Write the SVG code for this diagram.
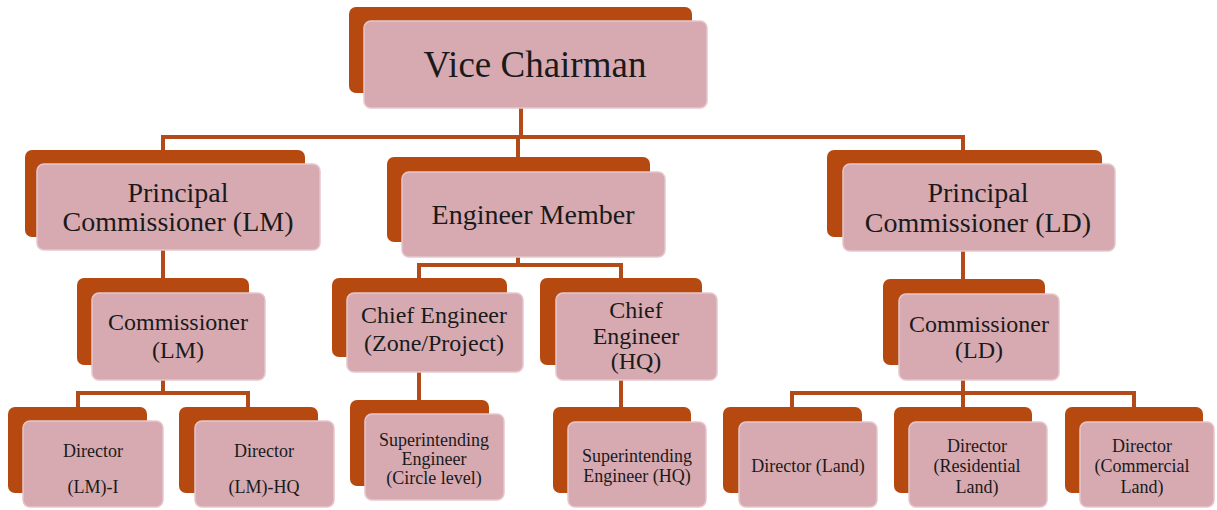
<svg xmlns="http://www.w3.org/2000/svg" width="1217" height="510" viewBox="0 0 1217 510">
<style>
.bk{fill:#B5490F}
.fr{fill:#D7AAB2;stroke:#E6C6CC;stroke-width:1.5}
.t{font-family:"Liberation Serif","Times New Roman",serif;fill:#1a1a1a;text-anchor:middle}
.c{stroke:#B24A1A;stroke-width:4;fill:none;stroke-linecap:square}
</style>
<rect width="1217" height="510" fill="#ffffff"/>
<g id="connectors">
<path class="c" d="M521 108V137M163 137H963M163 137V150M518 137V157M963 137V150"/>
<path class="c" d="M163 250V278"/>
<path class="c" d="M518 257V265M419 265H621M419 265V278M621 265V278"/>
<path class="c" d="M963 251V279"/>
<path class="c" d="M163 380V393M78 393H248M78 393V407M248 393V407"/>
<path class="c" d="M419 372V400"/>
<path class="c" d="M621 380V407"/>
<path class="c" d="M963 380V393M792 393H1134M792 393V407M963 393V407M1134 393V407"/>
</g>
<g id="vice-chairman">
<rect class="bk" x="349" y="7" width="343" height="86" rx="7"/>
<rect class="fr" x="364" y="21" width="343" height="87" rx="7"/>
<text class="t" x="535" y="77" font-size="37">Vice Chairman</text>
</g>
<g id="pc-lm">
<rect class="bk" x="25" y="150" width="280" height="87" rx="7"/>
<rect class="fr" x="37" y="164" width="283" height="86" rx="7"/>
<text class="t" x="178" y="202" font-size="28">Principal</text>
<text class="t" x="178" y="231" font-size="28">Commissioner (LM)</text>
</g>
<g id="engineer-member">
<rect class="bk" x="387" y="157" width="263" height="85" rx="7"/>
<rect class="fr" x="402" y="172" width="263" height="85" rx="7"/>
<text class="t" x="533" y="224" font-size="28">Engineer Member</text>
</g>
<g id="pc-ld">
<rect class="bk" x="827" y="150" width="275" height="87" rx="7"/>
<rect class="fr" x="843" y="164" width="272" height="87" rx="7"/>
<text class="t" x="978" y="202" font-size="28">Principal</text>
<text class="t" x="978" y="232" font-size="28">Commissioner (LD)</text>
</g>
<g id="commissioner-lm">
<rect class="bk" x="77" y="278" width="172" height="87" rx="7"/>
<rect class="fr" x="92" y="293" width="173" height="87" rx="7"/>
<text class="t" x="178" y="330" font-size="24">Commissioner</text>
<text class="t" x="178" y="358" font-size="24">(LM)</text>
</g>
<g id="ce-zone">
<rect class="bk" x="332" y="278" width="175" height="79" rx="7"/>
<rect class="fr" x="347" y="293" width="176" height="79" rx="7"/>
<text class="t" x="434" y="323" font-size="24">Chief Engineer</text>
<text class="t" x="434" y="351" font-size="24">(Zone/Project)</text>
</g>
<g id="ce-hq">
<rect class="bk" x="540" y="278" width="162" height="87" rx="7"/>
<rect class="fr" x="556" y="293" width="161" height="87" rx="7"/>
<text class="t" x="636" y="318" font-size="24">Chief</text>
<text class="t" x="636" y="344" font-size="24">Engineer</text>
<text class="t" x="636" y="369" font-size="24">(HQ)</text>
</g>
<g id="commissioner-ld">
<rect class="bk" x="883" y="279" width="162" height="86" rx="7"/>
<rect class="fr" x="899" y="294" width="160" height="86" rx="7"/>
<text class="t" x="979" y="332" font-size="24">Commissioner</text>
<text class="t" x="979" y="358" font-size="24">(LD)</text>
</g>
<g id="director-lm-i">
<rect class="bk" x="8" y="407" width="139" height="86" rx="7"/>
<rect class="fr" x="23" y="421" width="140" height="86" rx="7"/>
<text class="t" x="93" y="457" font-size="18">Director</text>
<text class="t" x="93" y="493" font-size="18">(LM)-I</text>
</g>
<g id="director-lm-hq">
<rect class="bk" x="179" y="407" width="139" height="86" rx="7"/>
<rect class="fr" x="195" y="421" width="139" height="86" rx="7"/>
<text class="t" x="264" y="457" font-size="18">Director</text>
<text class="t" x="264" y="493" font-size="18">(LM)-HQ</text>
</g>
<g id="se-circle">
<rect class="bk" x="350" y="400" width="139" height="86" rx="7"/>
<rect class="fr" x="365" y="414" width="139" height="86" rx="7"/>
<text class="t" x="434" y="446" font-size="18">Superintending</text>
<text class="t" x="434" y="465" font-size="18">Engineer</text>
<text class="t" x="434" y="484" font-size="18">(Circle level)</text>
</g>
<g id="se-hq">
<rect class="bk" x="553" y="407" width="138" height="86" rx="7"/>
<rect class="fr" x="568" y="422" width="138" height="85" rx="7"/>
<text class="t" x="637" y="462" font-size="18">Superintending</text>
<text class="t" x="637" y="482" font-size="18">Engineer (HQ)</text>
</g>
<g id="director-land">
<rect class="bk" x="723" y="407" width="139" height="86" rx="7"/>
<rect class="fr" x="739" y="422" width="138" height="85" rx="7"/>
<text class="t" x="808" y="472" font-size="18">Director (Land)</text>
</g>
<g id="director-residential">
<rect class="bk" x="894" y="407" width="138" height="86" rx="7"/>
<rect class="fr" x="909" y="422" width="138" height="85" rx="7"/>
<text class="t" x="977" y="452" font-size="18">Director</text>
<text class="t" x="977" y="472" font-size="18">(Residential</text>
<text class="t" x="977" y="493" font-size="18">Land)</text>
</g>
<g id="director-commercial">
<rect class="bk" x="1065" y="407" width="138" height="86" rx="7"/>
<rect class="fr" x="1080" y="422" width="134" height="85" rx="7"/>
<text class="t" x="1142" y="452" font-size="18">Director</text>
<text class="t" x="1142" y="472" font-size="18">(Commercial</text>
<text class="t" x="1142" y="493" font-size="18">Land)</text>
</g>
</svg>
